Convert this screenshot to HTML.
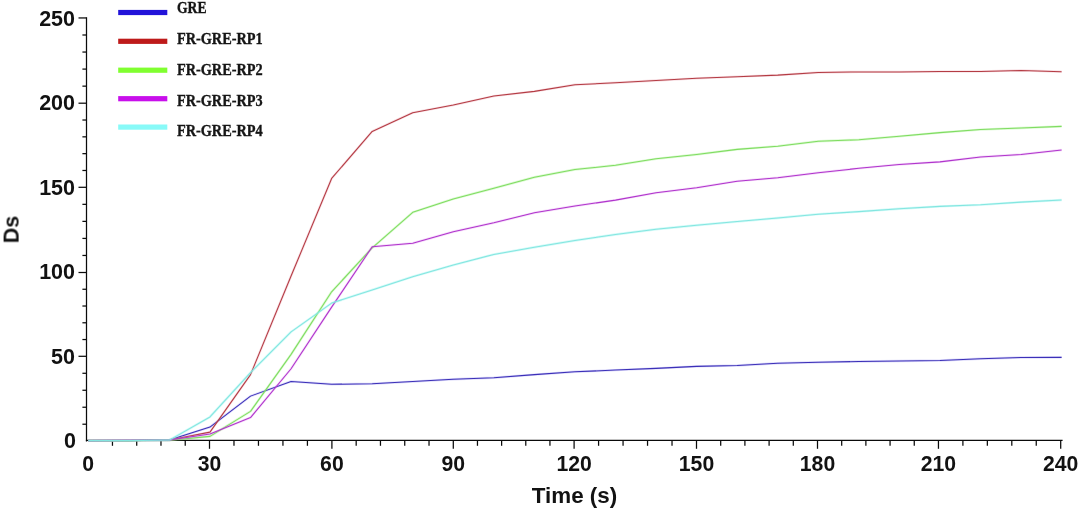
<!DOCTYPE html><html><head><meta charset="utf-8"><style>html,body{margin:0;padding:0;background:#fff;width:1080px;height:510px;overflow:hidden}svg{display:block}</style></head><body>
<svg width="1080" height="510" viewBox="0 0 1080 510">
<rect width="1080" height="510" fill="#fff"/>
<g stroke="#0a0a0a" stroke-width="1.25" fill="none" stroke-linecap="butt">
<line x1="86.5" y1="17.3" x2="86.5" y2="441.6"/>
<line x1="85.9" y1="440.45" x2="1062.6" y2="440.45"/>
<line x1="82.4" y1="424.22" x2="86.5" y2="424.22"/>
<line x1="82.4" y1="407.24" x2="86.5" y2="407.24"/>
<line x1="82.4" y1="390.26" x2="86.5" y2="390.26"/>
<line x1="82.4" y1="373.28" x2="86.5" y2="373.28"/>
<line x1="78.5" y1="356.30" x2="86.5" y2="356.30"/>
<line x1="82.4" y1="339.54" x2="86.5" y2="339.54"/>
<line x1="82.4" y1="322.78" x2="86.5" y2="322.78"/>
<line x1="82.4" y1="306.02" x2="86.5" y2="306.02"/>
<line x1="82.4" y1="289.26" x2="86.5" y2="289.26"/>
<line x1="78.5" y1="272.50" x2="86.5" y2="272.50"/>
<line x1="82.4" y1="255.46" x2="86.5" y2="255.46"/>
<line x1="82.4" y1="238.42" x2="86.5" y2="238.42"/>
<line x1="82.4" y1="221.38" x2="86.5" y2="221.38"/>
<line x1="82.4" y1="204.34" x2="86.5" y2="204.34"/>
<line x1="78.5" y1="187.30" x2="86.5" y2="187.30"/>
<line x1="82.4" y1="170.48" x2="86.5" y2="170.48"/>
<line x1="82.4" y1="153.66" x2="86.5" y2="153.66"/>
<line x1="82.4" y1="136.84" x2="86.5" y2="136.84"/>
<line x1="82.4" y1="120.02" x2="86.5" y2="120.02"/>
<line x1="78.5" y1="103.20" x2="86.5" y2="103.20"/>
<line x1="82.4" y1="86.15" x2="86.5" y2="86.15"/>
<line x1="82.4" y1="69.10" x2="86.5" y2="69.10"/>
<line x1="82.4" y1="52.05" x2="86.5" y2="52.05"/>
<line x1="82.4" y1="35.00" x2="86.5" y2="35.00"/>
<line x1="78.5" y1="17.95" x2="86.5" y2="17.95"/>
<line x1="112.46" y1="440.4" x2="112.46" y2="445.8"/>
<line x1="136.72" y1="440.4" x2="136.72" y2="445.8"/>
<line x1="160.98" y1="440.4" x2="160.98" y2="445.8"/>
<line x1="185.24" y1="440.4" x2="185.24" y2="445.8"/>
<line x1="209.50" y1="440.4" x2="209.50" y2="448.8"/>
<line x1="233.98" y1="440.4" x2="233.98" y2="445.8"/>
<line x1="258.46" y1="440.4" x2="258.46" y2="445.8"/>
<line x1="282.94" y1="440.4" x2="282.94" y2="445.8"/>
<line x1="307.42" y1="440.4" x2="307.42" y2="445.8"/>
<line x1="331.90" y1="440.4" x2="331.90" y2="448.8"/>
<line x1="356.18" y1="440.4" x2="356.18" y2="445.8"/>
<line x1="380.46" y1="440.4" x2="380.46" y2="445.8"/>
<line x1="404.74" y1="440.4" x2="404.74" y2="445.8"/>
<line x1="429.02" y1="440.4" x2="429.02" y2="445.8"/>
<line x1="453.30" y1="440.4" x2="453.30" y2="448.8"/>
<line x1="477.46" y1="440.4" x2="477.46" y2="445.8"/>
<line x1="501.62" y1="440.4" x2="501.62" y2="445.8"/>
<line x1="525.78" y1="440.4" x2="525.78" y2="445.8"/>
<line x1="549.94" y1="440.4" x2="549.94" y2="445.8"/>
<line x1="574.10" y1="440.4" x2="574.10" y2="448.8"/>
<line x1="598.58" y1="440.4" x2="598.58" y2="445.8"/>
<line x1="623.06" y1="440.4" x2="623.06" y2="445.8"/>
<line x1="647.54" y1="440.4" x2="647.54" y2="445.8"/>
<line x1="672.02" y1="440.4" x2="672.02" y2="445.8"/>
<line x1="696.50" y1="440.4" x2="696.50" y2="448.8"/>
<line x1="720.70" y1="440.4" x2="720.70" y2="445.8"/>
<line x1="744.90" y1="440.4" x2="744.90" y2="445.8"/>
<line x1="769.10" y1="440.4" x2="769.10" y2="445.8"/>
<line x1="793.30" y1="440.4" x2="793.30" y2="445.8"/>
<line x1="817.50" y1="440.4" x2="817.50" y2="448.8"/>
<line x1="841.69" y1="440.4" x2="841.69" y2="445.8"/>
<line x1="865.88" y1="440.4" x2="865.88" y2="445.8"/>
<line x1="890.07" y1="440.4" x2="890.07" y2="445.8"/>
<line x1="914.26" y1="440.4" x2="914.26" y2="445.8"/>
<line x1="938.45" y1="440.4" x2="938.45" y2="448.8"/>
<line x1="962.90" y1="440.4" x2="962.90" y2="445.8"/>
<line x1="987.35" y1="440.4" x2="987.35" y2="445.8"/>
<line x1="1011.80" y1="440.4" x2="1011.80" y2="445.8"/>
<line x1="1036.25" y1="440.4" x2="1036.25" y2="445.8"/>
<line x1="1060.70" y1="440.4" x2="1060.70" y2="448.8"/>
</g>
<g font-family="Liberation Sans, Arial, sans-serif" font-weight="bold" fill="#111" opacity="0.995">
<text x="75.9" y="448.10" font-size="21.5" text-anchor="end">0</text>
<text x="75" y="364.30" font-size="21.5" text-anchor="end">50</text>
<text x="75" y="279.00" font-size="21.5" text-anchor="end">100</text>
<text x="75" y="195.00" font-size="21.5" text-anchor="end">150</text>
<text x="75" y="110.10" font-size="21.5" text-anchor="end">200</text>
<text x="75" y="26.20" font-size="21.5" text-anchor="end">250</text>
<text x="88.20" y="470.9" font-size="22.8" text-anchor="middle" textLength="11.79" lengthAdjust="spacingAndGlyphs">0</text>
<text x="209.50" y="470.9" font-size="22.8" text-anchor="middle" textLength="23.58" lengthAdjust="spacingAndGlyphs">30</text>
<text x="331.90" y="470.9" font-size="22.8" text-anchor="middle" textLength="23.58" lengthAdjust="spacingAndGlyphs">60</text>
<text x="453.30" y="470.9" font-size="22.8" text-anchor="middle" textLength="23.58" lengthAdjust="spacingAndGlyphs">90</text>
<text x="574.10" y="470.9" font-size="22.8" text-anchor="middle" textLength="35.36" lengthAdjust="spacingAndGlyphs">120</text>
<text x="696.50" y="470.9" font-size="22.8" text-anchor="middle" textLength="35.36" lengthAdjust="spacingAndGlyphs">150</text>
<text x="817.50" y="470.9" font-size="22.8" text-anchor="middle" textLength="35.36" lengthAdjust="spacingAndGlyphs">180</text>
<text x="938.45" y="470.9" font-size="22.8" text-anchor="middle" textLength="35.36" lengthAdjust="spacingAndGlyphs">210</text>
<text x="1060.70" y="470.9" font-size="22.8" text-anchor="middle" textLength="35.36" lengthAdjust="spacingAndGlyphs">240</text>
<text x="574.5" y="503" font-size="22.4" text-anchor="middle">Time (s)</text>
<text transform="translate(18.6,229.5) rotate(-90)" font-size="21.5" text-anchor="middle">Ds</text>
</g>
<polyline fill="none" stroke="rgba(120,110,235,0.25)" stroke-width="2.4" stroke-linejoin="round" points="88.30,440.60 128.86,440.60 169.41,440.09 209.97,427.07 250.52,396.12 291.07,381.41 331.63,384.28 372.19,383.78 412.74,381.58 453.30,379.21 493.85,377.69 534.40,374.64 574.96,371.77 615.51,370.08 656.07,368.39 696.62,366.36 737.18,365.51 777.74,363.31 818.29,362.30 858.85,361.45 899.40,360.94 939.96,360.44 980.51,358.75 1021.07,357.56 1061.62,357.39"/>
<polyline fill="none" stroke="#3c30b8" stroke-width="1.05" stroke-linejoin="round" points="88.30,440.60 128.86,440.60 169.41,440.09 209.97,427.07 250.52,396.12 291.07,381.41 331.63,384.28 372.19,383.78 412.74,381.58 453.30,379.21 493.85,377.69 534.40,374.64 574.96,371.77 615.51,370.08 656.07,368.39 696.62,366.36 737.18,365.51 777.74,363.31 818.29,362.30 858.85,361.45 899.40,360.94 939.96,360.44 980.51,358.75 1021.07,357.56 1061.62,357.39"/>
<polyline fill="none" stroke="rgba(225,120,140,0.25)" stroke-width="2.4" stroke-linejoin="round" points="88.30,440.60 128.86,440.60 169.41,440.09 209.97,432.14 250.52,374.64 291.07,276.05 331.63,178.46 372.19,131.45 412.74,112.68 453.30,105.07 493.85,96.10 534.40,91.37 574.96,84.77 615.51,82.74 656.07,80.54 696.62,78.34 737.18,76.65 777.74,75.13 818.29,72.43 858.85,71.92 899.40,71.92 939.96,71.58 980.51,71.41 1021.07,70.40 1061.62,71.75"/>
<polyline fill="none" stroke="#b43c44" stroke-width="1.05" stroke-linejoin="round" points="88.30,440.60 128.86,440.60 169.41,440.09 209.97,432.14 250.52,374.64 291.07,276.05 331.63,178.46 372.19,131.45 412.74,112.68 453.30,105.07 493.85,96.10 534.40,91.37 574.96,84.77 615.51,82.74 656.07,80.54 696.62,78.34 737.18,76.65 777.74,75.13 818.29,72.43 858.85,71.92 899.40,71.92 939.96,71.58 980.51,71.41 1021.07,70.40 1061.62,71.75"/>
<polyline fill="none" stroke="rgba(140,240,110,0.3)" stroke-width="2.4" stroke-linejoin="round" points="88.30,440.60 128.86,440.60 169.41,440.26 209.97,436.37 250.52,411.34 291.07,354.35 331.63,291.77 372.19,247.80 412.74,212.29 453.30,198.93 493.85,188.27 534.40,177.28 574.96,169.50 615.51,165.27 656.07,158.85 696.62,154.45 737.18,149.38 777.74,146.16 818.29,141.26 858.85,139.74 899.40,136.35 939.96,132.63 980.51,129.59 1021.07,128.07 1061.62,126.38"/>
<polyline fill="none" stroke="#80dc62" stroke-width="1.05" stroke-linejoin="round" points="88.30,440.60 128.86,440.60 169.41,440.26 209.97,436.37 250.52,411.34 291.07,354.35 331.63,291.77 372.19,247.80 412.74,212.29 453.30,198.93 493.85,188.27 534.40,177.28 574.96,169.50 615.51,165.27 656.07,158.85 696.62,154.45 737.18,149.38 777.74,146.16 818.29,141.26 858.85,139.74 899.40,136.35 939.96,132.63 980.51,129.59 1021.07,128.07 1061.62,126.38"/>
<polyline fill="none" stroke="rgba(215,110,235,0.25)" stroke-width="2.4" stroke-linejoin="round" points="88.30,440.60 128.86,440.35 169.41,440.09 209.97,434.00 250.52,417.60 291.07,368.72 331.63,307.16 372.19,246.79 412.74,243.24 453.30,231.74 493.85,222.77 534.40,212.80 574.96,206.03 615.51,200.11 656.07,192.84 696.62,187.77 737.18,181.17 777.74,177.79 818.29,172.71 858.85,168.32 899.40,164.43 939.96,161.89 980.51,156.99 1021.07,154.45 1061.62,150.05"/>
<polyline fill="none" stroke="#b035cc" stroke-width="1.05" stroke-linejoin="round" points="88.30,440.60 128.86,440.35 169.41,440.09 209.97,434.00 250.52,417.60 291.07,368.72 331.63,307.16 372.19,246.79 412.74,243.24 453.30,231.74 493.85,222.77 534.40,212.80 574.96,206.03 615.51,200.11 656.07,192.84 696.62,187.77 737.18,181.17 777.74,177.79 818.29,172.71 858.85,168.32 899.40,164.43 939.96,161.89 980.51,156.99 1021.07,154.45 1061.62,150.05"/>
<polyline fill="none" stroke="rgba(130,240,235,0.35)" stroke-width="2.4" stroke-linejoin="round" points="88.30,440.60 128.86,440.60 169.41,440.09 209.97,416.92 250.52,372.61 291.07,331.86 331.63,303.11 372.19,289.91 412.74,276.72 453.30,265.05 493.85,254.40 534.40,247.30 574.96,240.53 615.51,234.44 656.07,229.20 696.62,225.31 737.18,221.59 777.74,218.04 818.29,214.15 858.85,211.61 899.40,208.74 939.96,206.37 980.51,204.85 1021.07,202.14 1061.62,199.94"/>
<polyline fill="none" stroke="#84e6e0" stroke-width="1.05" stroke-linejoin="round" points="88.30,440.60 128.86,440.60 169.41,440.09 209.97,416.92 250.52,372.61 291.07,331.86 331.63,303.11 372.19,289.91 412.74,276.72 453.30,265.05 493.85,254.40 534.40,247.30 574.96,240.53 615.51,234.44 656.07,229.20 696.62,225.31 737.18,221.59 777.74,218.04 818.29,214.15 858.85,211.61 899.40,208.74 939.96,206.37 980.51,204.85 1021.07,202.14 1061.62,199.94"/>
<rect x="118.2" y="9.90" width="49.1" height="5.2" fill="#2213d9"/>
<rect x="118.2" y="38.70" width="49.1" height="5.2" fill="#be1a1a"/>
<rect x="118.2" y="67.60" width="49.1" height="5.2" fill="#80ff30"/>
<rect x="118.2" y="96.10" width="49.1" height="5.2" fill="#c80feb"/>
<rect x="118.2" y="124.50" width="49.1" height="5.2" fill="#88faf8"/>
<g font-family="Liberation Serif, Times New Roman, serif" font-weight="bold" fill="#151515" stroke="#151515" stroke-width="0.35" opacity="0.995">
<text x="176.9" y="12.7" font-size="16" textLength="29.6" lengthAdjust="spacingAndGlyphs">GRE</text>
<text x="176.9" y="43.6" font-size="16" textLength="85.8" lengthAdjust="spacingAndGlyphs">FR-GRE-RP1</text>
<text x="176.9" y="74.8" font-size="16" textLength="85.8" lengthAdjust="spacingAndGlyphs">FR-GRE-RP2</text>
<text x="176.9" y="106.1" font-size="16" textLength="85.8" lengthAdjust="spacingAndGlyphs">FR-GRE-RP3</text>
<text x="176.9" y="136.0" font-size="16" textLength="85.8" lengthAdjust="spacingAndGlyphs">FR-GRE-RP4</text>
</g>
</svg></body></html>
